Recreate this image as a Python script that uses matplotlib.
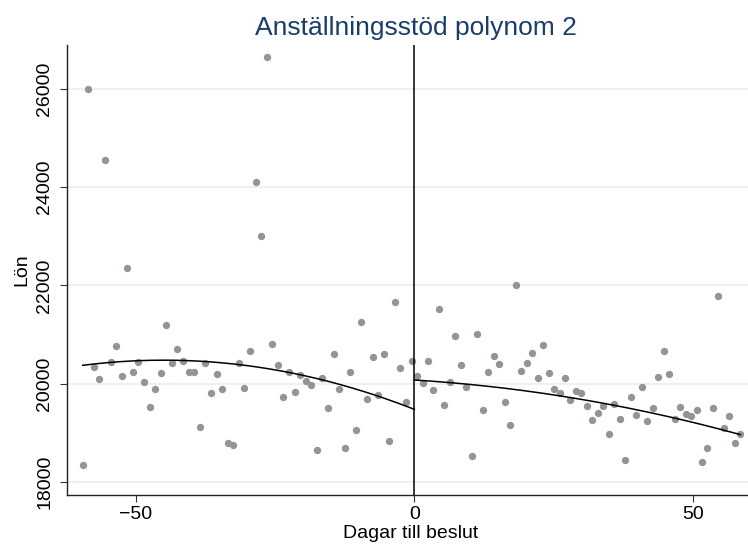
import numpy as np
import matplotlib
matplotlib.use('Agg')
from matplotlib import pyplot as plt

plt.rcParams['font.family'] = ['Liberation Sans', 'DejaVu Sans']

# dagar före beslut (bin-mitter) och medellön
left_x = np.arange(-59.5, 0, 1.0)
left_y = [18339, 26000, 20339, 20088, 24556, 20441, 20766, 20163, 22346, 20244,
          20441, 20027, 19532, 19892, 20224, 21187, 20420, 20705, 20454, 20230,
          20230, 19125, 20420, 19803, 20203, 19892, 18800, 18759, 20420, 19905,
          20664, 24095, 23010, 26638, 20800, 20380, 19722, 20230, 19824, 20170,
          20061, 19966, 18651, 20108, 19512, 20603, 19885, 18691, 20244, 19058,
          21248, 19688, 20536, 19769, 20597, 18841, 21661, 20319, 19620, 20454]

# dagar efter beslut (bin-mitter)
right_x = np.linspace(0.49, 58.51, 60)
right_y = [20156, 20014, 20461, 19871, 21526, 19573, 20041, 20976, 20373, 19932,
           18536, 21003, 19471, 20230, 20569, 20393, 19627, 19166, 22000, 20258,
           20420, 20631, 20108, 20780, 20217, 19892, 19803, 20122, 19675, 19858,
           19803, 19553, 19254, 19403, 19539, 18976, 19593, 19281, 18447, 19722,
           19369, 19932, 19247, 19498, 20129, 20658, 20190, 19281, 19519, 19376,
           19349, 19464, 18413, 18698, 19512, 21776, 19091, 19342, 18800, 18969]

# polynom grad 2 (skattat på individdata) - koefficienter a, b, c
fit_left = [-0.4948, -44.5, 19478]
fit_right = [-0.205, -7.0, 20075]

yticks = [18000, 20000, 22000, 24000, 26000]
xticks = [-50, 0, 50]

fig = plt.figure(figsize=(7.48, 5.49), dpi=100)
ax = fig.add_axes([67/748, 54/549, 688/748, 450/549])

for t in yticks:
    ax.axhline(t, color='#eaf2f3', lw=1.5, zorder=0)

ax.scatter(left_x, left_y, s=28, color='#929497', linewidths=0, zorder=2)
ax.scatter(right_x, right_y, s=28, color='#929497', linewidths=0, zorder=2)

xl = np.linspace(left_x[0], 0, 200)
xr = np.linspace(0, right_x[-1], 200)
ax.plot(xl, np.polyval(fit_left, xl), color='black', lw=1.1, zorder=3)
ax.plot(xr, np.polyval(fit_right, xr), color='black', lw=1.1, zorder=3)

ax.axvline(0, color='black', lw=1.1, zorder=3)

ax.set_xlim(-62.33, 61.14)
ax.set_ylim(17735, 26892)
ax.set_xticks(xticks)
ax.set_yticks(yticks)
ax.set_yticklabels([str(t) for t in yticks], rotation=90, va='center')
ax.tick_params(axis='both', labelsize=14, length=5, width=0.8, color='#333333')
ax.tick_params(axis='x', pad=3)
ax.tick_params(axis='y', pad=5)

for s in ['top', 'right']:
    ax.spines[s].set_visible(False)
for s in ['left', 'bottom']:
    ax.spines[s].set_linewidth(1.0)
    ax.spines[s].set_color('#222222')

ax.set_xlabel('Dagar till beslut', fontsize=14, labelpad=1)
ax.set_ylabel('Lön', fontsize=14, labelpad=4)

fig.text(416/748, 1 - 35/549, 'Anställningsstöd polynom 2', fontsize=19,
         color='#1a3d6d', ha='center', va='baseline')

fig.savefig('out.png', dpi=100)
